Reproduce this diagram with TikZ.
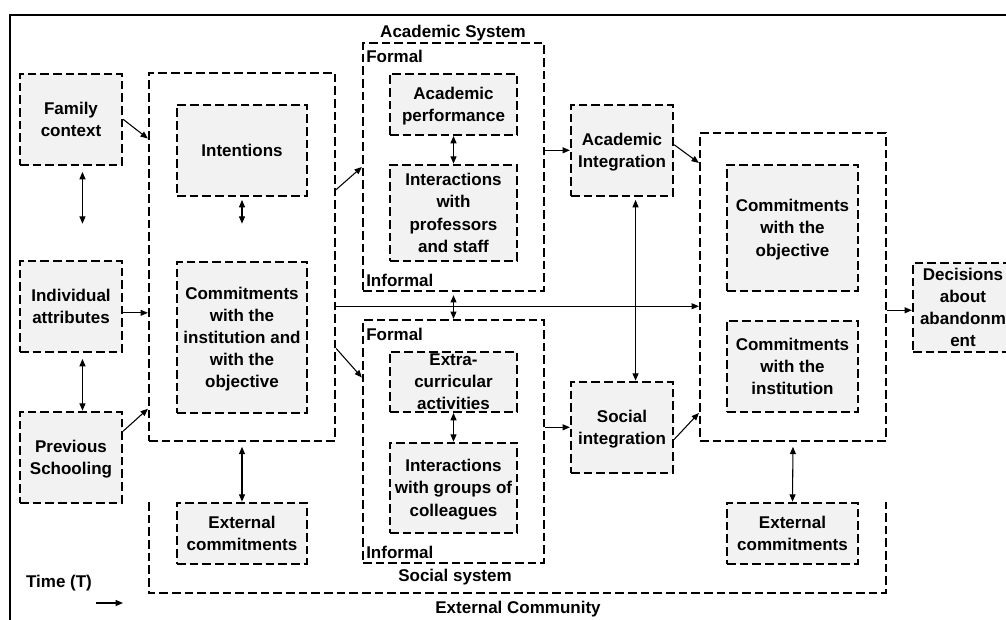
\documentclass[tikz,border=0pt]{standalone}
\usepackage{fontspec}
\setmainfont{Liberation Sans}
\usetikzlibrary{arrows.meta,calc}
\definecolor{boxfill}{HTML}{F2F2F2}
\newcommand{\pxbox}[7]{\node[#7, minimum width={(#4-#2)*0.75pt}, minimum height={(#5-#3)*0.75pt}] (#1) at ({(#2+#4)/2},{(#3+#5)/2}) {#6};}
\begin{document}
\begin{tikzpicture}[x=0.75pt,y=-0.75pt,
  txt/.style={font=\fontsize{12.75}{16.6}\selectfont\bfseries},
  obox/.style={draw, line width=1.7pt, dash pattern=on 6.5pt off 3pt, inner sep=0pt, align=center, txt},
  gbox/.style={obox, fill=boxfill, text depth=0pt, yshift=-0.6pt},
  lbl/.style={txt, inner sep=0pt},
  arr/.style={line width=0.8pt, -{Triangle[length=5.5pt,width=4.5pt]}},
  darr/.style={line width=0.8pt, {Triangle[length=5.5pt,width=4.5pt]}-{Triangle[length=5.5pt,width=4.5pt]}}]
\useasboundingbox (0,0) rectangle (1006,619);
\begin{scope}
\clip (0,0) rectangle (1006,619);
\draw[line width=1.6pt] (10,625) -- (10,15) -- (1012,15);
\pxbox{dec}{913}{262}{1013}{351}{Decisions\\about\\abandonm\\ent}{gbox}
\end{scope}
% outer groups
\pxbox{A}{149}{73}{335}{441}{}{obox}
\pxbox{B}{700}{133}{886}{441}{}{obox}
\pxbox{acs}{363}{43}{544}{291}{}{obox}
\pxbox{ss}{363}{320}{544}{563}{}{obox}
\draw[line width=1.7pt, dash pattern=on 6.5pt off 3pt] (149,502) -- (149,593) -- (886,593) -- (886,502);
% inner boxes
\pxbox{fam}{20}{73}{122}{164}{Family\\context}{gbox}
\pxbox{ind}{20}{260}{122}{351}{Individual\\attributes}{gbox}
\pxbox{prev}{20}{411}{122}{502}{Previous\\Schooling}{gbox}
\pxbox{int}{177}{104}{307}{195}{Intentions}{gbox}
\pxbox{comm}{177}{261}{307}{412}{Commitments\\with the\\institution and\\with the\\objective}{gbox}
\pxbox{extL}{177}{502}{307}{563}{External\\commitments}{gbox}
\pxbox{perf}{390}{73}{517}{134}{Academic\\performance}{gbox}
\pxbox{prof}{390}{164}{517}{260}{Interactions\\with\\professors\\and staff}{gbox}
\pxbox{extra}{390}{351}{517}{411}{Extra-\\curricular\\activities}{gbox}
\pxbox{grp}{390}{442}{517}{532}{Interactions\\with groups of\\colleagues}{gbox}
\pxbox{aint}{571}{104}{673}{195}{Academic\\Integration}{gbox}
\pxbox{sint}{571}{381}{673}{472}{Social\\integration}{gbox}
\pxbox{cobj}{727}{164}{858}{290}{Commitments\\with the\\objective}{gbox}
\pxbox{cinst}{727}{320}{858}{411}{Commitments\\with the\\institution}{gbox}
\pxbox{extR}{727}{502}{858}{563}{External\\commitments}{gbox}
% labels
\node[lbl] (lacs) at (453,33) {Academic System};
\node[lbl, anchor=west] (f1) at (366,56) {Formal};
\node[lbl, anchor=west] (i1) at (366,280) {Informal};
\node[lbl, anchor=west] (f2) at (366,334) {Formal};
\node[lbl, anchor=west] (i2) at (366,552) {Informal};
\node[lbl] (lss) at (455,577) {Social system};
\node[lbl] (lext) at (518,609) {External Community};
\node[lbl] (ltime) at (59,583) {Time (T)};
\coordinate (t1) at (96,603);
\coordinate (t2) at (123,603);
\draw[arr] (t1) -- (t2);
% double arrows
\coordinate (fi1) at ($(fam.south west)!0.61!(fam.south east)$);
\draw[darr, shorten <=4.5pt, shorten >=27pt] (fi1) -- (fi1 |- ind.north);
\coordinate (ip1) at ($(ind.south west)!0.61!(ind.south east)$);
\draw[darr, shorten <=4.5pt] (ip1) -- (ip1 |- prev.north);
\draw[darr, shorten <=2.25pt, shorten >=27.75pt] (int.south) -- (comm.north);
\draw[darr, shorten <=3.5pt] (A.south) -- (extL.north);
\draw[darr, shorten <=3.5pt] (B.south) -- (extR.north);
\draw[darr] (perf.south) -- (prof.north);
\draw[darr, shorten <=2.25pt] (acs.south) -- (ss.north);
\draw[darr] (extra.south) -- (grp.north);
\coordinate (as1) at ($(aint.south west)!0.63!(aint.south east)$);
\draw[darr, shorten <=2.25pt] (as1) -- (as1 |- sint.north);
% single arrows
\draw[arr] (fam.east) -- ($(A.north west)!0.18!(A.south west)$);
\coordinate (ia) at ($(ind.north east)!0.57!(ind.south east)$);
\draw[arr] (ia) -- (ia -| A.west);
\draw[arr] ($(prev.north east)!0.22!(prev.south east)$) -- ($(A.north west)!0.91!(A.south west)$);
\draw[arr] ($(A.north east)!0.318!(A.south east)$) -- (acs.west);
\draw[arr] ($(A.north east)!0.747!(A.south east)$) -- ($(ss.north west)!0.239!(ss.south west)$);
\coordinate (ab) at ($(A.north east)!0.633!(A.south east)$);
\draw[arr] (ab) -- (ab -| B.west);
\draw[arr] (aint.west -| acs.east) -- (aint.west);
\draw[arr] (sint.west -| ss.east) -- (sint.west);
\draw[arr] ($(aint.north east)!0.44!(aint.south east)$) -- ($(B.north west)!0.1!(B.south west)$);
\draw[arr] ($(sint.north east)!0.63!(sint.south east)$) -- ($(B.north west)!0.906!(B.south west)$);
\coordinate (bd) at ($(B.north east)!0.575!(B.south east)$);
\draw[arr] (bd) -- (bd -| dec.west);
\end{tikzpicture}
\end{document}
